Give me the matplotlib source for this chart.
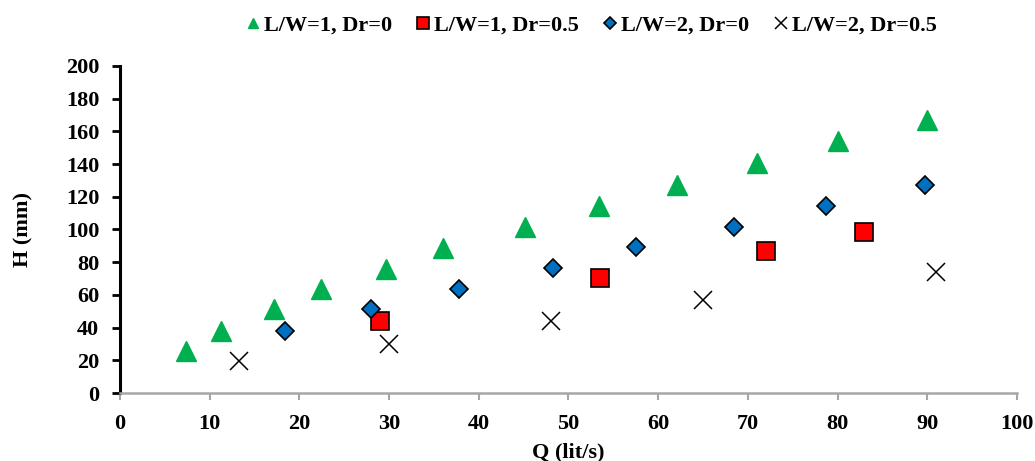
import matplotlib.pyplot as plt

plt.rcParams['font.family'] = ['Liberation Serif', 'DejaVu Serif']
plt.rcParams['font.weight'] = 'bold'

# L/W=1, Dr=0
q_lw1_dr0 = [7.3, 11.3, 17.2, 22.4, 29.6, 36.0, 45.2, 53.4, 62.1, 71.0, 80.0, 90.0]
h_lw1_dr0 = [25.4, 38.1, 51.1, 63.5, 76.1, 88.9, 101.5, 114.5, 127.0, 140.5, 154.0, 167.0]
# L/W=1, Dr=0.5
q_lw1_dr05 = [29.0, 53.5, 72.0, 83.0]
h_lw1_dr05 = [44.2, 70.1, 86.9, 98.5]
# L/W=2, Dr=0
q_lw2_dr0 = [18.4, 28.0, 37.8, 48.3, 57.5, 68.5, 78.7, 89.7]
h_lw2_dr0 = [38.1, 51.1, 63.7, 76.3, 89.2, 101.7, 114.4, 127.3]
# L/W=2, Dr=0.5
q_lw2_dr05 = [13.3, 30.0, 48.0, 65.0, 91.0]
h_lw2_dr05 = [19.3, 29.7, 44.3, 57.0, 74.0]

fig = plt.figure(figsize=(10.35, 4.61), dpi=100)
ax = fig.add_axes([0.116, 0.1475, 0.8665, 0.7095])

ax.plot(q_lw1_dr0, h_lw1_dr0, ls='none', marker='^', ms=14, color='#00B050',
        mec='#00B050', label='L/W=1, Dr=0')
ax.plot(q_lw1_dr05, h_lw1_dr05, ls='none', marker='s', ms=13, color='#FF0000',
        mec='black', mew=1.2, label='L/W=1, Dr=0.5')
ax.plot(q_lw2_dr0, h_lw2_dr0, ls='none', marker='D', ms=9, color='#0070C0',
        mec='black', mew=1.2, label='L/W=2, Dr=0')
ax.plot(q_lw2_dr05, h_lw2_dr05, ls='none', marker='x', ms=13.5, color='black',
        mew=1.1, label='L/W=2, Dr=0.5')

ax.set_xlim(0, 100)
ax.set_ylim(0, 200)
ax.set_xticks(range(0, 101, 10))
ax.set_yticks(range(0, 201, 20))

for s in ['top', 'right']:
    ax.spines[s].set_visible(False)
ax.spines['left'].set_color('black')
ax.spines['left'].set_linewidth(2.2)
ax.spines['bottom'].set_color('#A6A6A6')
ax.spines['bottom'].set_linewidth(1.8)
ax.tick_params(axis='y', length=6, width=2, color='black', labelsize=16, pad=9)
ax.tick_params(axis='x', length=5, width=1.5, color='#A6A6A6', labelsize=16, pad=10)
for lab in ax.get_xticklabels() + ax.get_yticklabels():
    lab.set_fontweight('bold')

ax.set_xlabel('Q (lit/s)', fontsize=16, fontweight='bold', labelpad=6)
ax.set_ylabel('H (mm)', fontsize=16, fontweight='bold', labelpad=23)

leg = ax.legend(loc='center', bbox_to_anchor=(0.523, 1.125), ncol=4, frameon=False,
                fontsize=16, handletextpad=0.0, columnspacing=0.9, handlelength=1.0)
for t in leg.get_texts():
    t.set_fontweight('bold')
for h, ms in zip(leg.legend_handles, [7, 9, 6, 9]):
    h.set_markersize(ms)

fig.savefig('out.png', dpi=100)
